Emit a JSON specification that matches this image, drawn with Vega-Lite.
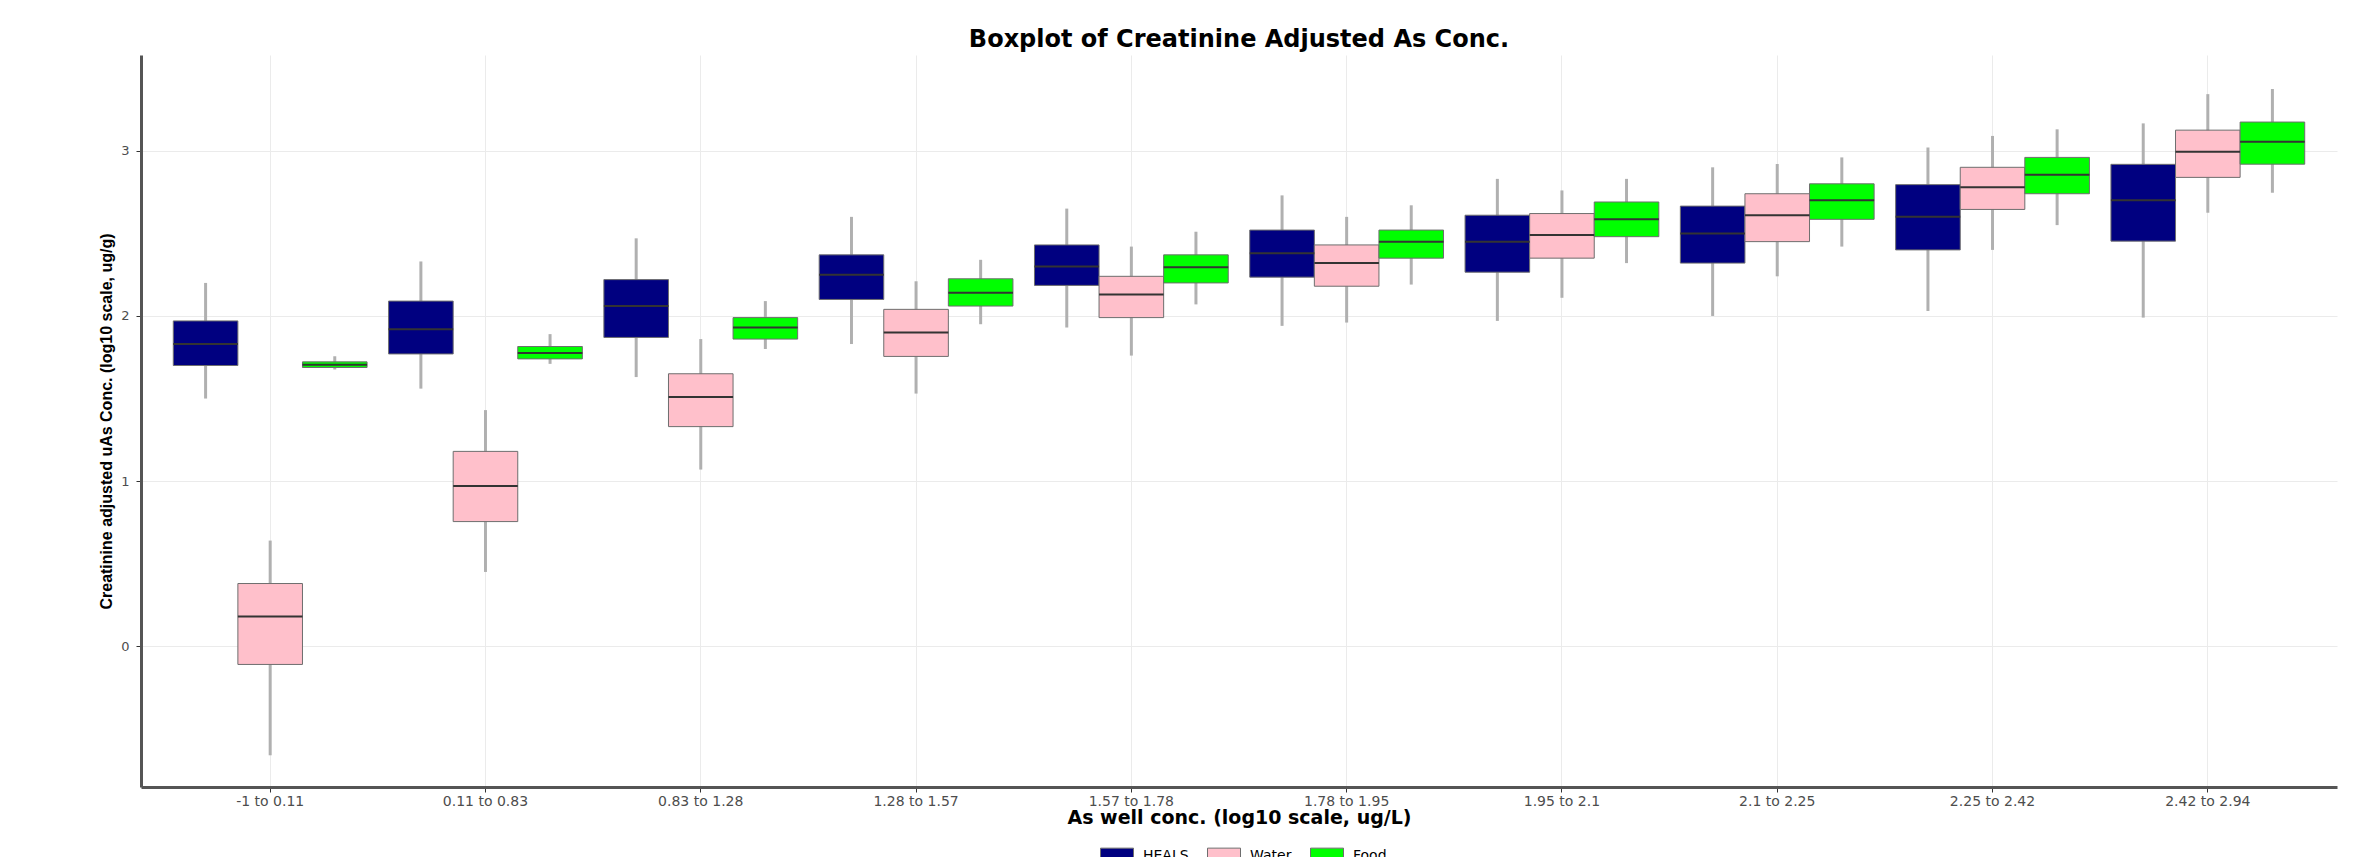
{
  "$schema": "https://vega.github.io/schema/vega-lite/v6.json",
  "autosize": {"type": "none"},
  "padding": {"left": 141, "top": 55, "right": 32, "bottom": 70},
  "width": 2196,
  "height": 732,
  "background": "white",
  "title": {"text": "Boxplot of Creatinine Adjusted As Conc.", "font": "DejaVu Sans", "fontSize": 24, "fontWeight": "bold", "color": "#000000", "anchor": "middle", "baseline": "alphabetic", "offset": -16},
  "data": {"values": [
    {"range": "-1 to 0.11", "source": "HEALS", "lower": 1.50, "q1": 1.70, "median": 1.83, "q3": 1.97, "upper": 2.20},
    {"range": "-1 to 0.11", "source": "Water", "lower": -0.66, "q1": -0.11, "median": 0.18, "q3": 0.38, "upper": 0.64},
    {"range": "-1 to 0.11", "source": "Food", "lower": 1.676, "q1": 1.688, "median": 1.705, "q3": 1.722, "upper": 1.756},
    {"range": "0.11 to 0.83", "source": "HEALS", "lower": 1.56, "q1": 1.77, "median": 1.92, "q3": 2.09, "upper": 2.33},
    {"range": "0.11 to 0.83", "source": "Water", "lower": 0.45, "q1": 0.755, "median": 0.97, "q3": 1.18, "upper": 1.43},
    {"range": "0.11 to 0.83", "source": "Food", "lower": 1.71, "q1": 1.74, "median": 1.775, "q3": 1.815, "upper": 1.89},
    {"range": "0.83 to 1.28", "source": "HEALS", "lower": 1.63, "q1": 1.87, "median": 2.06, "q3": 2.22, "upper": 2.47},
    {"range": "0.83 to 1.28", "source": "Water", "lower": 1.07, "q1": 1.33, "median": 1.51, "q3": 1.65, "upper": 1.86},
    {"range": "0.83 to 1.28", "source": "Food", "lower": 1.80, "q1": 1.86, "median": 1.93, "q3": 1.99, "upper": 2.09},
    {"range": "1.28 to 1.57", "source": "HEALS", "lower": 1.83, "q1": 2.10, "median": 2.25, "q3": 2.37, "upper": 2.60},
    {"range": "1.28 to 1.57", "source": "Water", "lower": 1.53, "q1": 1.755, "median": 1.90, "q3": 2.04, "upper": 2.21},
    {"range": "1.28 to 1.57", "source": "Food", "lower": 1.95, "q1": 2.06, "median": 2.14, "q3": 2.225, "upper": 2.34},
    {"range": "1.57 to 1.78", "source": "HEALS", "lower": 1.93, "q1": 2.185, "median": 2.30, "q3": 2.43, "upper": 2.65},
    {"range": "1.57 to 1.78", "source": "Water", "lower": 1.76, "q1": 1.99, "median": 2.13, "q3": 2.24, "upper": 2.42},
    {"range": "1.57 to 1.78", "source": "Food", "lower": 2.07, "q1": 2.20, "median": 2.295, "q3": 2.37, "upper": 2.51},
    {"range": "1.78 to 1.95", "source": "HEALS", "lower": 1.94, "q1": 2.235, "median": 2.38, "q3": 2.52, "upper": 2.73},
    {"range": "1.78 to 1.95", "source": "Water", "lower": 1.96, "q1": 2.18, "median": 2.32, "q3": 2.43, "upper": 2.60},
    {"range": "1.78 to 1.95", "source": "Food", "lower": 2.19, "q1": 2.35, "median": 2.45, "q3": 2.52, "upper": 2.67},
    {"range": "1.95 to 2.1", "source": "HEALS", "lower": 1.97, "q1": 2.265, "median": 2.45, "q3": 2.61, "upper": 2.83},
    {"range": "1.95 to 2.1", "source": "Water", "lower": 2.11, "q1": 2.35, "median": 2.49, "q3": 2.62, "upper": 2.76},
    {"range": "1.95 to 2.1", "source": "Food", "lower": 2.32, "q1": 2.48, "median": 2.585, "q3": 2.69, "upper": 2.83},
    {"range": "2.1 to 2.25", "source": "HEALS", "lower": 2.00, "q1": 2.32, "median": 2.50, "q3": 2.665, "upper": 2.90},
    {"range": "2.1 to 2.25", "source": "Water", "lower": 2.24, "q1": 2.45, "median": 2.61, "q3": 2.74, "upper": 2.92},
    {"range": "2.1 to 2.25", "source": "Food", "lower": 2.42, "q1": 2.585, "median": 2.70, "q3": 2.80, "upper": 2.96},
    {"range": "2.25 to 2.42", "source": "HEALS", "lower": 2.03, "q1": 2.40, "median": 2.60, "q3": 2.795, "upper": 3.02},
    {"range": "2.25 to 2.42", "source": "Water", "lower": 2.40, "q1": 2.645, "median": 2.78, "q3": 2.90, "upper": 3.09},
    {"range": "2.25 to 2.42", "source": "Food", "lower": 2.55, "q1": 2.74, "median": 2.855, "q3": 2.96, "upper": 3.13},
    {"range": "2.42 to 2.94", "source": "HEALS", "lower": 1.99, "q1": 2.453, "median": 2.70, "q3": 2.918, "upper": 3.166},
    {"range": "2.42 to 2.94", "source": "Water", "lower": 2.625, "q1": 2.839, "median": 2.994, "q3": 3.125, "upper": 3.343},
    {"range": "2.42 to 2.94", "source": "Food", "lower": 2.746, "q1": 2.919, "median": 3.055, "q3": 3.174, "upper": 3.374}
  ]},
  "encoding": {
    "x": {
      "field": "range", "type": "nominal",
      "sort": ["-1 to 0.11", "0.11 to 0.83", "0.83 to 1.28", "1.28 to 1.57", "1.57 to 1.78", "1.78 to 1.95", "1.95 to 2.1", "2.1 to 2.25", "2.25 to 2.42", "2.42 to 2.94"],
      "scale": {"paddingInner": 0.1, "paddingOuter": 0.15},
      "title": "As well conc. (log10 scale, ug/L)",
      "axis": {"labelFont": "DejaVu Sans", "labelFontSize": 14, "labelColor": "#4d4d4d", "labelAngle": 0, "labelPadding": 2, "tickSize": 5, "tickColor": "#333333", "domainColor": "#555555", "domainWidth": 3, "grid": true, "gridColor": "#ebebeb", "gridWidth": 1, "bandPosition": 0.5, "titleFont": "DejaVu Sans", "titleFontSize": 19, "titleFontWeight": "bold", "titleColor": "#000000", "titlePadding": 0}
    },
    "xOffset": {"field": "source", "type": "nominal", "sort": ["HEALS", "Water", "Food"], "scale": {"paddingInner": 0, "paddingOuter": 0}}
  },
  "layer": [
    {
      "mark": {"type": "rule", "color": "#b0b0b0", "strokeWidth": 3},
      "encoding": {
        "y": {"field": "lower", "type": "quantitative", "scale": {"domain": [-0.852, 3.58], "nice": false, "zero": false},
          "title": "Creatinine adjusted uAs Conc. (log10 scale, ug/g)",
          "axis": {"values": [0, 1, 2, 3], "format": "d", "labelFont": "DejaVu Sans", "labelFontSize": 13, "labelColor": "#4d4d4d", "labelPadding": 7, "tickSize": 5, "tickColor": "#333333", "domainColor": "#555555", "domainWidth": 3, "grid": true, "gridColor": "#ebebeb", "gridWidth": 1, "titleFont": "Liberation Sans", "titleFontSize": 16, "titleFontWeight": "bold", "titleColor": "#000000", "titlePadding": 6}},
        "y2": {"field": "upper"}
      }
    },
    {
      "mark": {"type": "bar", "stroke": "#6e6e6e", "strokeWidth": 1},
      "encoding": {
        "y": {"field": "q1", "type": "quantitative", "scale": {"domain": [-0.852, 3.58], "nice": false, "zero": false}},
        "y2": {"field": "q3"},
        "color": {"field": "source", "type": "nominal",
          "scale": {"domain": ["HEALS", "Water", "Food"], "range": ["#000080", "#FFC0CB", "#00FF00"]},
          "legend": {"orient": "none", "legendX": 959, "legendY": 784, "direction": "horizontal", "title": null, "symbolType": "M-1,-0.5H1V0.5H-1Z", "symbolSize": 1089, "symbolStrokeColor": "#6e6e6e", "symbolStrokeWidth": 1, "symbolOpacity": 1, "labelFont": "DejaVu Sans", "labelFontSize": 14, "labelColor": "#000000", "labelOffset": 9, "columnPadding": 16}}
      }
    },
    {
      "mark": {"type": "bar", "stroke": "#333333", "strokeWidth": 2, "fillOpacity": 0},
      "encoding": {
        "y": {"field": "median", "type": "quantitative", "scale": {"domain": [-0.852, 3.58], "nice": false, "zero": false}},
        "y2": {"field": "median"}
      }
    }
  ],
  "config": {"view": {"stroke": null}}
}
